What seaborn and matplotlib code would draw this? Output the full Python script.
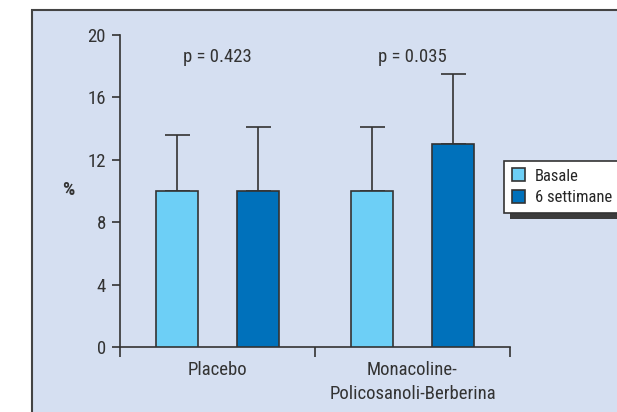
import pandas as pd
import matplotlib.pyplot as plt
import seaborn as sns
from matplotlib.patches import Rectangle, Patch

# data
groups = ["Placebo", "Monacoline-\nPolicosanoli-Berberina"]
series = ["Basale", "6 settimane"]
basale = [10, 10]
settimane = [10, 13]
err_basale = [3.6, 4.1]
err_settimane = [4.1, 4.5]
p_values = ["p = 0.423", "p = 0.035"]

light = "#6dcff6"
dark = "#0071bb"
panel = "#d5dff1"
ink = "#333333"

df = pd.DataFrame({
    "Gruppo": groups * 2,
    "Tempo": [series[0]] * 2 + [series[1]] * 2,
    "Valore": basale + settimane,
    "Err": err_basale + err_settimane,
})

sns.set_style("white")
plt.rcParams["font.family"] = ["Roboto Condensed", "DejaVu Sans"]
plt.rcParams["font.size"] = 13

fig = plt.figure(figsize=(6.17, 4.12), dpi=100)
fig.patch.set_facecolor("white")
# light blue panel behind the chart
fig.patches.append(Rectangle((32 / 617, -0.1), 1.2, 1.1 - 10 / 412, transform=fig.transFigure,
                             facecolor=panel, edgecolor="#444444", linewidth=1.5, zorder=-2))

ax = fig.add_axes([120 / 617, 1 - 347 / 412, (510 - 120) / 617, (347 - 35) / 412])
ax.set_facecolor("none")

sns.barplot(data=df, x="Gruppo", y="Valore", hue="Tempo", hue_order=series,
            palette=[light, dark], saturation=1, width=0.83, gap=0.47, errorbar=None,
            edgecolor=ink, linewidth=1.2, ax=ax, legend=False, zorder=3)

# upper error bars only, placed on the drawn bars
for bar, (_, row) in zip(ax.patches, df.iterrows()):
    xc = bar.get_x() + bar.get_width() / 2
    ax.errorbar(xc, row["Valore"], yerr=[[0], [row["Err"]]], fmt="none",
                ecolor=ink, elinewidth=1.2, capsize=9, capthick=1.2, zorder=2)

for i, txt in enumerate(p_values):
    ax.text(i, 18.6, txt, ha="center", va="center", fontsize=13.5, color=ink)

ax.set_xlim(-0.5, 1.5)
ax.set_ylim(0, 20)
ax.set_yticks([0, 4, 8, 12, 16, 20])
ax.set_xticks([-0.5, 0.5, 1.5], minor=False)
ax.set_xticklabels([])
ax.set_xticks([0, 1], minor=True)
ax.set_xticklabels(groups, minor=True)
ax.tick_params(axis="x", which="minor", bottom=True, length=0, pad=10, labelsize=13.5, colors=ink)
ax.tick_params(axis="x", which="major", bottom=True, length=7, width=1.2, color=ink, direction="out")
ax.tick_params(axis="y", left=True, length=6, width=1.2, color=ink, direction="out",
               labelsize=13.5, labelcolor=ink, pad=4)
for lbl in ax.get_xticklabels(minor=True):
    lbl.set_linespacing(1.45)
ax.set_xlabel("")
ax.set_ylabel("")
for s in ["top", "right"]:
    ax.spines[s].set_visible(False)
for s in ["left", "bottom"]:
    ax.spines[s].set_color(ink)
    ax.spines[s].set_linewidth(1.2)

fig.text(68 / 617, 1 - 190 / 412, "%", fontsize=14, fontweight="bold", ha="center", va="center", color=ink)

handles = [Patch(facecolor=light, edgecolor=ink, linewidth=1.2),
           Patch(facecolor=dark, edgecolor=ink, linewidth=1.2)]
leg = fig.legend(handles, series, loc="upper left", bbox_to_anchor=(504 / 617, 1 - 161 / 412),
                 bbox_transform=fig.transFigure, frameon=True, fancybox=False,
                 edgecolor=ink, facecolor="white", fontsize=12, handlelength=0.8,
                 handleheight=0.8, handletextpad=0.6, borderpad=0.45, labelspacing=0.4,
                 borderaxespad=0)
leg.get_frame().set_linewidth(1.2)
leg.get_frame().set_alpha(1)
leg.set_zorder(5)

# dark drop shadow of the legend box
fig.canvas.draw()
bb = leg.get_window_extent().transformed(fig.transFigure.inverted())
fig.patches.append(Rectangle((bb.x0 + 6 / 617, bb.y0 - 6 / 412), bb.width, bb.height,
                             transform=fig.transFigure, facecolor="#3c3c3c",
                             edgecolor="none", zorder=1))

fig.savefig("out.png", dpi=100)
